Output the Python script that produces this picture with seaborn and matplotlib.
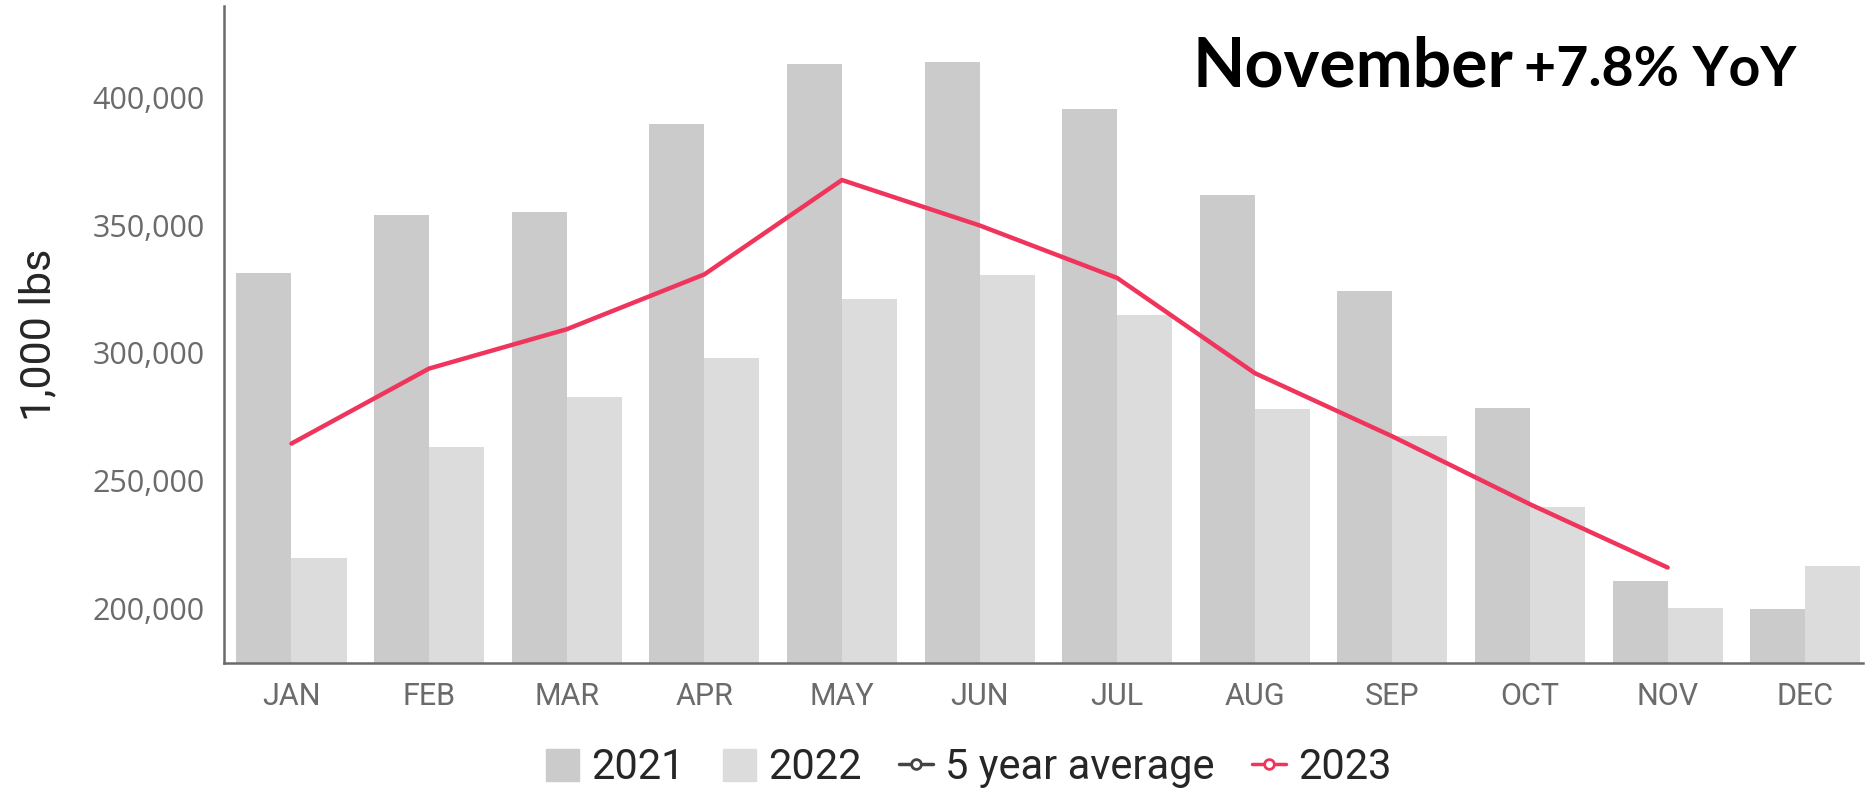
import seaborn as sns
from matplotlib import pyplot as plt
from matplotlib.patches import Patch
from matplotlib.lines import Line2D
from matplotlib.ticker import FuncFormatter
import pandas as pd

months = ["JAN", "FEB", "MAR", "APR", "MAY", "JUN", "JUL", "AUG", "SEP", "OCT", "NOV", "DEC"]
vals_2021 = [331300, 354200, 355100, 389700, 413100, 414000, 395800, 362100, 324300, 278500, 210700, 199500]
vals_2022 = [219600, 263100, 282700, 298100, 321000, 330400, 315000, 278000, 267300, 239700, 200000, 216400]
vals_2023 = [264500, 293900, 309300, 330800, 367800, 350000, 329400, 292100, 267300, 240700, 215900]

df = pd.DataFrame({
    "month": months * 2,
    "year": ["2021"] * 12 + ["2022"] * 12,
    "value": vals_2021 + vals_2022,
})
line_df = pd.DataFrame({"month": months[:len(vals_2023)], "value": vals_2023})

sns.set_style("white")
plt.rcParams["font.family"] = ["Open Sans", "DejaVu Sans"]
narrow = ["Roboto", "DejaVu Sans"]

c21, c22, c23 = "#cbcbcb", "#dcdcdc", "#f0355c"
fig = plt.figure(figsize=(18.7, 7.9), dpi=100)
ax = fig.add_axes([0.1198, 0.1608, 0.8765, 0.8316])

sns.barplot(data=df, x="month", y="value", hue="year", palette=[c21, c22],
            width=0.8, saturation=1, linewidth=0, ax=ax, legend=False)
sns.lineplot(data=line_df, x="month", y="value", color=c23, linewidth=3.2, ax=ax,
             sort=False, legend=False)

ax.set_ylim(178500, 436000)
ax.set_xlim(-0.49, 11.42)
ax.set_yticks([200000, 250000, 300000, 350000, 400000])
ax.yaxis.set_major_formatter(FuncFormatter(lambda v, p: f"{int(v):,}"))
ax.tick_params(axis="y", length=0, labelsize=22, labelcolor="#6b6b6b", pad=14)
ax.tick_params(axis="x", length=8, width=1.5, color="#6b6b6b", labelsize=22,
               labelcolor="#6b6b6b", pad=6)
for lab in ax.get_xticklabels():
    lab.set_family(narrow)
ax.set_xlabel("")
ax.set_ylabel("1,000 lbs", fontsize=31, family=narrow, labelpad=24)
sns.despine(ax=ax)
for s in ["left", "bottom"]:
    ax.spines[s].set_color("#6b6b6b")
    ax.spines[s].set_linewidth(1.8)

ax.text(0.591, 0.878, "November", transform=ax.transAxes, fontsize=49, color="black",
        fontweight="bold", ha="left", va="baseline", family=["Lato", "DejaVu Sans"])
ax.text(0.793, 0.878, "+7.8% YoY", transform=ax.transAxes, fontsize=40, color="black",
        fontweight="bold", ha="left", va="baseline", family=["Lato", "DejaVu Sans"])

handles = [
    Patch(color=c21, label="2021"),
    Patch(color=c22, label="2022"),
    Line2D([], [], color="#444444", marker="o", markerfacecolor="white", markersize=7,
           markeredgewidth=2, linewidth=2.5, label="5 year average"),
    Line2D([], [], color=c23, marker="o", markerfacecolor="white", markersize=7,
           markeredgewidth=2, linewidth=2.5, label="2023"),
]
fig.legend(handles=handles, loc="lower center", bbox_to_anchor=(0.518, -0.045), ncol=4,
           frameon=False, handlelength=0.8, handleheight=0.8, handletextpad=0.3,
           columnspacing=0.9, prop={"family": narrow, "size": 30})

fig.savefig("out.png", dpi=100)
